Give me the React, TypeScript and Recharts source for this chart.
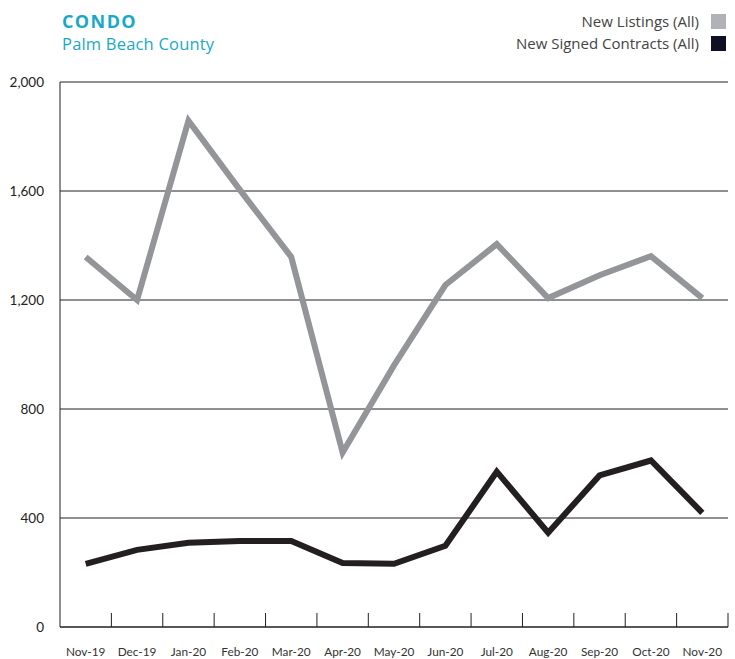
import { LineChart, Line, XAxis, YAxis, CartesianGrid } from 'recharts';

const months = ['Nov-19', 'Dec-19', 'Jan-20', 'Feb-20', 'Mar-20', 'Apr-20', 'May-20', 'Jun-20', 'Jul-20', 'Aug-20', 'Sep-20', 'Oct-20', 'Nov-20'];
const newListings = [1358, 1200, 1858, 1604, 1358, 640, 960, 1255, 1405, 1207, 1291, 1361, 1207];
const newContracts = [232, 283, 309, 316, 316, 235, 232, 298, 570, 346, 556, 611, 419];
const yTicks = [0, 400, 800, 1200, 1600, 2000];

const data = months.map((m, i) => ({ month: m, listings: newListings[i], contracts: newContracts[i] }));

const W = 735;
const H = 659;
const LEFT = 60;
const RIGHT = 7;
const BAND = (W - LEFT - RIGHT) / months.length;
const FONT = 'Lato, "Noto Sans", sans-serif';
const HEAD_FONT = '"Open Sans", Lato, sans-serif';

const XTick = (props: any) => {
    const { x, y, payload } = props;
    const edge = x + BAND / 2;
    return (
        <g>
            <line x1={edge} x2={edge} y1={y} y2={y - 14} stroke="#231f20" strokeWidth={1} />
            <text x={x} y={y + 29} textAnchor="middle" fontSize={11.8} fill="#333" fontFamily={FONT}>
                {payload.value}
            </text>
        </g>
    );
};

export default function App() {
    return (
        <div style={{ position: 'absolute', left: 0, top: 0, width: W, height: H, background: '#fff', fontFamily: FONT }}>
            <div style={{ position: 'absolute', left: 62, top: 12, color: '#1aa8c8', lineHeight: 1, fontFamily: HEAD_FONT }}>
                <div style={{ fontSize: 18, fontWeight: 700, letterSpacing: 1.4 }}>CONDO</div>
                <div style={{ fontSize: 16.5, marginTop: 6, letterSpacing: 0.2 }}>Palm Beach County</div>
            </div>
            <div style={{ position: 'absolute', right: 9, top: 14, color: '#444', fontSize: 15, lineHeight: 1, fontFamily: HEAD_FONT }}>
                <div style={{ display: 'flex', alignItems: 'center', justifyContent: 'flex-end', height: 15 }}>
                    <span>New Listings (All)</span>
                    <span style={{ display: 'inline-block', width: 15, height: 15, background: '#b1b2b7', marginLeft: 12 }} />
                </div>
                <div style={{ display: 'flex', alignItems: 'center', justifyContent: 'flex-end', height: 15, marginTop: 7 }}>
                    <span>New Signed Contracts (All)</span>
                    <span style={{ display: 'inline-block', width: 15, height: 15, background: '#0f1024', marginLeft: 12 }} />
                </div>
            </div>
            <LineChart width={W} height={H} data={data} margin={{ top: 82, right: RIGHT, left: 0, bottom: 0 }}>
                <CartesianGrid vertical={false} stroke="#231f20" strokeWidth={1} />
                <XAxis
                    dataKey="month"
                    height={32}
                    stroke="#231f20"
                    tickLine={false}
                    tickSize={0}
                    tickMargin={0}
                    interval={0}
                    padding={{ left: BAND / 2, right: BAND / 2 }}
                    tick={<XTick />}
                />
                <YAxis
                    width={LEFT}
                    domain={[0, 2000]}
                    ticks={yTicks}
                    stroke="#231f20"
                    tickLine={false}
                    tickMargin={10}
                    tickFormatter={(v: number) => v.toLocaleString('en-US')}
                    tick={{ fill: '#222', fontSize: 13.5, fontFamily: FONT }}
                />
                <Line
                    type="linear"
                    dataKey="listings"
                    stroke="#939598"
                    strokeWidth={6}
                    dot={false}
                    isAnimationActive={false}
                />
                <Line
                    type="linear"
                    dataKey="contracts"
                    stroke="#231f20"
                    strokeWidth={6}
                    dot={false}
                    isAnimationActive={false}
                />
            </LineChart>
        </div>
    );
}
